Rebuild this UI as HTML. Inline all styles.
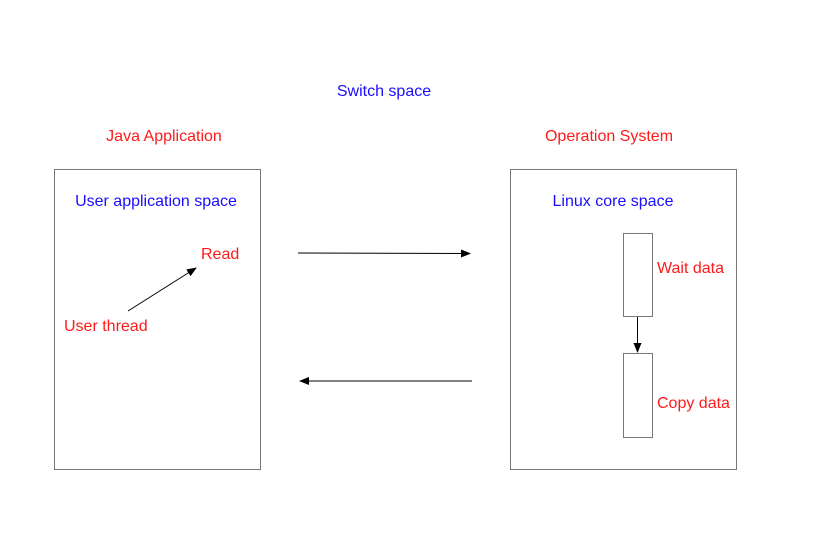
<!DOCTYPE html>
<html><head><style>
body{margin:0;background:#fff;}
svg text{font-family:"Liberation Sans",sans-serif;font-size:16px;}
</style></head><body>
<svg width="829" height="530" xmlns="http://www.w3.org/2000/svg">
<defs><marker id="a" markerWidth="10" markerHeight="8" refX="9" refY="4" orient="auto" markerUnits="userSpaceOnUse"><path d="M0,0 L10,4 L0,8 Z" fill="#000"/></marker></defs>
<rect x="54.5" y="169.5" width="206" height="300" fill="none" stroke="#777"/>
<rect x="510.5" y="169.5" width="226" height="300" fill="none" stroke="#777"/>
<rect x="623.5" y="233.5" width="29" height="83" fill="none" stroke="#777"/>
<rect x="623.5" y="353.5" width="29" height="84" fill="none" stroke="#777"/>
<line x1="637.5" y1="317" x2="637.5" y2="352" stroke="#000" marker-end="url(#a)"/>
<line x1="298" y1="253" x2="470" y2="253.5" stroke="#000" marker-end="url(#a)"/>
<line x1="472" y1="381" x2="300" y2="381" stroke="#000" marker-end="url(#a)"/>
<line x1="128" y1="311" x2="196" y2="268" stroke="#000" marker-end="url(#a)"/>
<text x="384" y="96" fill="#1a0dff" text-anchor="middle">Switch space</text>
<text x="164" y="141" fill="#ff1a1a" text-anchor="middle">Java Application</text>
<text x="609" y="141" fill="#ff1a1a" text-anchor="middle">Operation System</text>
<text x="156" y="206" fill="#1a0dff" text-anchor="middle">User application space</text>
<text x="613" y="206" fill="#1a0dff" text-anchor="middle">Linux core space</text>
<text x="201" y="259" fill="#ff1a1a">Read</text>
<text x="64" y="331" fill="#ff1a1a">User thread</text>
<text x="657" y="273" fill="#ff1a1a">Wait data</text>
<text x="657" y="408" fill="#ff1a1a">Copy data</text>
</svg>
</body></html>
